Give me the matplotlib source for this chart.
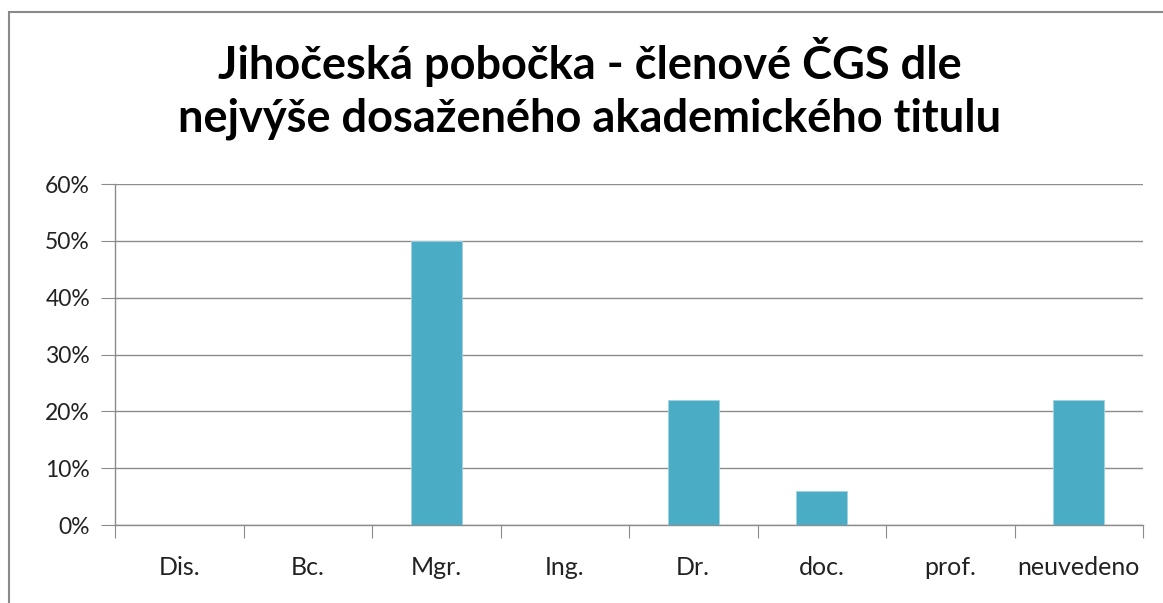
import numpy as np
import matplotlib.pyplot as plt
from matplotlib.patches import Rectangle
from matplotlib.ticker import PercentFormatter

# data
categories = ["Dis.", "Bc.", "Mgr.", "Ing.", "Dr.", "doc.", "prof.", "neuvedeno"]
shares = [0, 0, 50, 0, 22, 6, 0, 22]
y_ticks = [0, 10, 20, 30, 40, 50, 60]
title_lines = ["Jihočeská pobočka - členové ČGS dle",
               "nejvýše dosaženého akademického titulu"]

W, H = 1163, 603
fig = plt.figure(figsize=(W / 100, H / 100), dpi=100)
plt.rcParams['font.family'] = ['Lato', 'DejaVu Sans']

# chart frame (cut off on right and bottom like the original)
fig.add_artist(Rectangle((9 / W, -0.1), 1.2, 1.1 - 12 / H, transform=fig.transFigure,
                         fill=False, edgecolor='#8a8a8a', linewidth=1.5))

ax = fig.add_axes([115 / W, 1 - 525 / H, (1143 - 115) / W, (525 - 184) / H])
x = np.arange(len(categories))
ax.bar(x, shares, width=0.4, color='#4BACC6', edgecolor='#9fd3e0', linewidth=0.6, zorder=3)

ax.set_xlim(-0.5, len(categories) - 0.5)
ax.set_ylim(0, 60)
ax.set_yticks(y_ticks)
ax.yaxis.set_major_formatter(PercentFormatter(decimals=0))
ax.grid(axis='y', color='#8c8c8c', linewidth=1, zorder=0)

# category labels between boundary ticks
ax.set_xticks(np.arange(len(categories) + 1) - 0.5)
ax.set_xticklabels([])
ax.set_xticks(x, minor=True)
ax.set_xticklabels(categories, minor=True, fontsize=18, color='#222222')
ax.tick_params(axis='x', which='major', length=9, color='#8c8c8c', direction='out')
ax.tick_params(axis='x', which='minor', length=0, pad=36)
ax.tick_params(axis='y', length=10, color='#8c8c8c', labelsize=16.5, labelcolor='#222222', pad=8)
for lbl in ax.get_xticklabels(minor=True):
    lbl.set_verticalalignment('baseline')

for side in ['top', 'right']:
    ax.spines[side].set_visible(False)
for side in ['left', 'bottom']:
    ax.spines[side].set_color('#8c8c8c')
    ax.spines[side].set_linewidth(1)

for line, base in zip(title_lines, [79, 131]):
    fig.text(590 / W, 1 - base / H, line, ha='center', va='baseline',
             fontsize=32.5, fontweight='bold')

fig.savefig("out.png", dpi=100)
